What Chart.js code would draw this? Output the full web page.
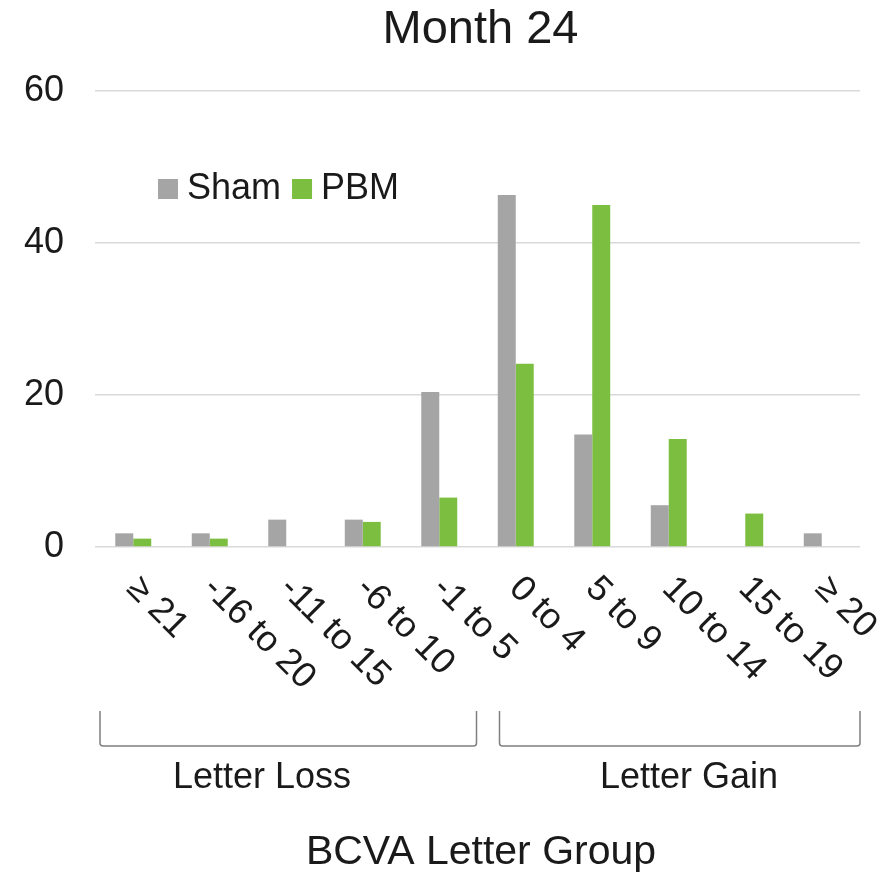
<html><head>
<script src="https://cdn.jsdelivr.net/npm/chart.js@4/dist/chart.umd.min.js"></script>
<style>
  body { margin: 0; background: #fff; }
</style>
</head>
<body>
<canvas id="bar-chart" width="881" height="874"></canvas>
<script>
  var chartTitle = "Month 24";
  var groups = ["\u2265 21", "-16 to 20", "-11 to 15", "-6 to 10", "-1 to 5", "0 to 4", "5 to 9", "10 to 14", "15 to 19", "\u2265 20"];
  var shamValues = [1.8, 1.8, 3.6, 3.6, 20.4, 46.3, 14.8, 5.5, 0, 1.8];
  var pbmValues = [1.1, 1.1, 0, 3.3, 6.5, 24.1, 45.0, 14.2, 4.4, 0];
  var yTicks = [0, 20, 40, 60];
  var lossLabel = "Letter Loss";
  var gainLabel = "Letter Gain";
  var xTitle = "BCVA Letter Group";

  var fontName = "'Liberation Sans', Arial, sans-serif";
  var textColor = "#1a1a1a";

  // title, rotated labels, brackets, legend and axis title drawn by hand
  var extras = {
    id: "extras",
    afterDraw: function(chart) {
      var ctx = chart.ctx;
      var area = chart.chartArea;
      var xs = chart.scales.x;
      ctx.save();
      ctx.fillStyle = textColor;

      // title
      ctx.font = "47px " + fontName;
      ctx.textAlign = "center";
      ctx.textBaseline = "middle";
      ctx.fillText(chartTitle, (area.left + area.right) / 2 + 3, 30);

      // category labels, rotated 45 deg clockwise
      ctx.font = "36px " + fontName;
      ctx.textAlign = "left";
      for (var i = 0; i < groups.length; i++) {
        var x = xs.getPixelForTick(i);
        ctx.save();
        ctx.translate(x - 1, area.bottom + 36);
        ctx.rotate(Math.PI / 4);
        ctx.fillText(groups[i], 0, 0);
        ctx.restore();
      }

      // brackets
      var split = (xs.getPixelForTick(4) + xs.getPixelForTick(5)) / 2;
      var top = 711, bot = 746;
      ctx.strokeStyle = "#7f7f7f";
      ctx.lineWidth = 1.5;
      function bracket(x1, x2) {
        ctx.beginPath();
        ctx.moveTo(x1, top);
        ctx.lineTo(x1, bot - 3);
        ctx.quadraticCurveTo(x1, bot, x1 + 3, bot);
        ctx.lineTo(x2 - 3, bot);
        ctx.quadraticCurveTo(x2, bot, x2, bot - 3);
        ctx.lineTo(x2, top);
        ctx.stroke();
      }
      bracket(area.left + 5, split - 1);
      bracket(split + 22, area.right);

      ctx.font = "36px " + fontName;
      ctx.textAlign = "center";
      ctx.fillText(lossLabel, 262, 778);
      ctx.fillText(gainLabel, 689, 778);

      // axis title
      ctx.font = "41px " + fontName;
      ctx.fillText(xTitle, 481, 853);

      // legend
      var lx = 158, ly = 189;
      ctx.font = "36px " + fontName;
      ctx.textAlign = "left";
      chart.data.datasets.forEach(function(ds) {
        ctx.fillStyle = ds.backgroundColor;
        ctx.fillRect(lx, ly - 10, 20, 20);
        ctx.fillStyle = textColor;
        ctx.fillText(ds.label, lx + 29, ly);
        lx += 29 + ctx.measureText(ds.label).width + 11;
      });
      ctx.restore();
    }
  };

  new Chart(document.getElementById("bar-chart"), {
    type: "bar",
    data: {
      labels: groups,
      datasets: [{
          label: "Sham",
          data: shamValues,
          backgroundColor: "#a5a5a5"
        }, {
          label: "PBM",
          data: pbmValues,
          backgroundColor: "#7cbf40"
        }
      ]
    },
    options: {
      responsive: false,
      animation: false,
      layout: { padding: { top: 91, right: 21, bottom: 327, left: 0 } },
      datasets: {
        bar: { categoryPercentage: 0.47, barPercentage: 1.0 }
      },
      scales: {
        x: { display: false },
        y: {
          min: 0,
          max: 60,
          afterFit: function(s) { s.width = 95; },
          afterBuildTicks: function(s) { s.ticks = yTicks.map(function(v) { return { value: v }; }); },
          border: { display: false },
          grid: { color: "#d9d9d9", lineWidth: 1.5, drawTicks: false },
          ticks: {
            padding: 31,
            color: textColor,
            font: { family: fontName, size: 36 }
          }
        }
      },
      plugins: {
        legend: { display: false },
        title: { display: false },
        tooltip: { enabled: false }
      }
    },
    plugins: [extras]
  });
</script>
</body>
</html>
